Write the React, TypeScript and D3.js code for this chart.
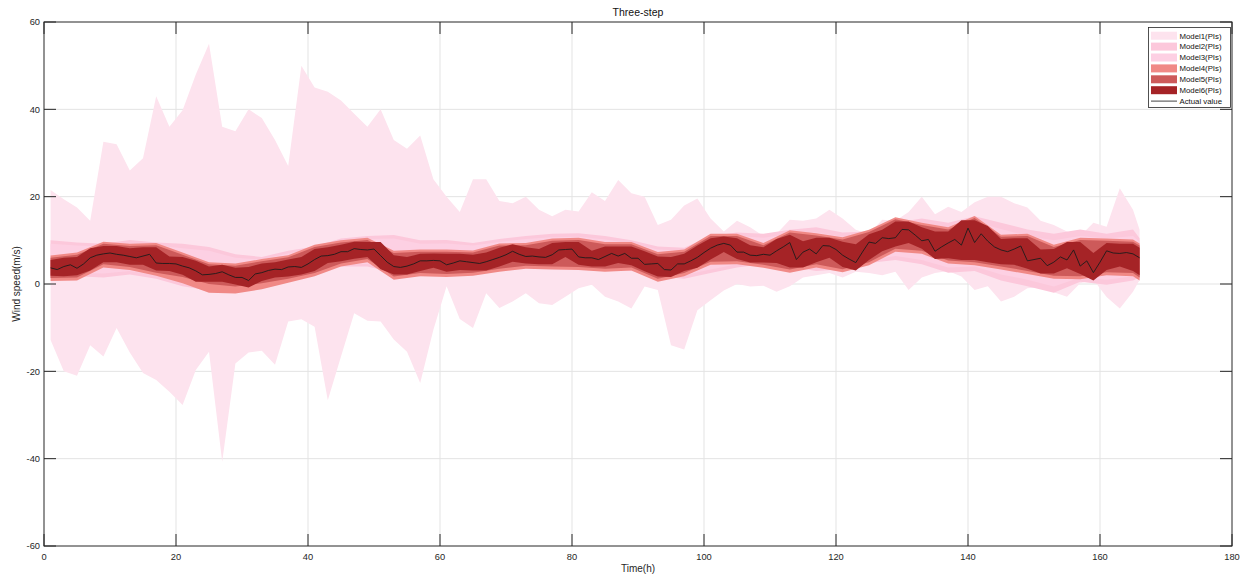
import React, { useEffect, useRef } from 'react';
import * as d3 from 'd3';

// hours of the test set and the measured wind speed
const hours = d3.range(1, 167);
const actual = [
  3.7, 3.3, 4.0, 4.4, 3.6, 4.6, 6.0, 6.6, 6.9, 7.1,
  6.8, 6.6, 6.3, 6.0, 6.4, 6.8, 4.8, 4.7, 4.7, 4.6,
  4.1, 3.7, 3.0, 2.1, 2.2, 2.4, 2.8, 2.1, 1.5, 1.5,
  0.8, 2.3, 2.6, 3.1, 3.4, 3.3, 3.9, 4.0, 3.8, 4.6,
  5.6, 6.4, 6.5, 6.8, 7.4, 7.4, 8.1, 7.9, 7.8, 8.0,
  6.5, 5.0, 4.0, 3.8, 4.1, 4.6, 5.3, 5.3, 5.4, 5.3,
  4.4, 4.8, 5.3, 5.1, 4.9, 4.7, 5.1, 5.6, 6.1, 6.7,
  7.5, 6.8, 6.3, 6.4, 6.2, 6.1, 6.7, 7.8, 7.9, 8.0,
  6.2, 6.0, 6.0, 5.6, 6.3, 7.0, 6.4, 7.0, 5.9, 5.9,
  4.5, 4.6, 4.7, 3.3, 3.2, 4.6, 4.6, 5.3, 6.1, 7.2,
  8.2, 8.9, 9.3, 8.9, 7.3, 7.3, 6.6, 6.5, 6.8, 6.6,
  7.6, 8.5, 9.5, 5.6, 7.3, 8.0, 6.9, 8.8, 8.7, 7.9,
  6.6, 5.7, 4.9, 7.3, 9.6, 9.3, 10.6, 10.4, 10.6, 12.5,
  12.4, 11.2, 9.9, 10.2, 7.5, 8.5, 9.4, 10.2, 8.9, 12.8,
  9.5, 11.5, 9.8, 8.5, 7.8, 7.4, 8.0, 8.7, 5.3, 5.6,
  5.9, 4.2, 5.0, 6.2, 5.5, 7.8, 4.1, 5.3, 2.6, 5.0,
  7.6, 7.1, 7.0, 7.2, 6.9, 6.0
];

// the interval bounds were read every 2 h (models 1 and 6) or every 4 h (models 2-5)
const grid2 = d3.range(1, 166, 2).concat([166]);
const grid4 = d3.range(1, 166, 4).concat([166]);

const model1Lo = [
  -12.8, -20, -21, -14, -16.6, -10.1, -15.7, -20.4, -22, -24.7,
  -27.7, -19.7, -15.5, -40.7, -18.2, -15.7, -15.3, -18.5, -8.6, -8.1,
  -9.8, -26.6, -16.6, -6.7, -8.4, -8.6, -12.7, -15.5, -22.7, -10.5,
  -0.5, -8, -10.1, -2.1, -5.5, -4, -2.1, -4.4, -4.8, -2.9,
  -1, -0.2, -2.9, -4, -5.6, -0.6, -1.4, -14, -15, -6,
  -3.7, -1.5, 0, -0.6, -0.4, -1.8, -0.5, 1.5, 2.0, 2.5,
  1.5, 2.8, 2.5, 2.0, 2.8, -1.4, 1.5, 2.5, 3.0, 1.7,
  -1.4, -0.5, -4.0, -2.9, -1.0, -0.7, -1.9, -2.9, 0.2, 1.0,
  -3.0, -5.6, -1.8, 0.9
];
const model1Hi = [
  21.5, 19.4, 17.5, 14.5, 32.6, 32.0, 26.0, 28.8, 43.0, 36.0,
  39.8, 48, 55, 36, 35, 40, 38, 33, 27, 50,
  45, 44, 42, 39, 36, 40, 33, 31, 34, 24,
  20, 16.5, 24, 24, 19, 18.5, 20, 17, 15.5, 17,
  16.6, 21, 19, 23.8, 20.8, 20, 13.5, 14.7, 18, 19.6,
  15, 12, 14.5, 13, 11, 11.5, 14.7, 14.5, 15, 17,
  15, 12.4, 11.5, 14.7, 14.5, 16.5, 20, 16, 17.7, 16.5,
  18.7, 20, 20, 18.5, 17.5, 14.5, 13.5, 12, 11, 14,
  13.1, 21.9, 17, 12.4
];

const model2Lo = [
  1.5, 1.8, 1.5, 2.2, 1.2, -0.5, -1.5, -1.8, -0.5, 2.5,
  3.5, 4.0, 4.0, 2.5, 1.8, 2.8, 2.0, 3.5, 4.5, 4.5,
  3.5, 3.8, 3.0, 1.8, 1.2, 2.5, 3.8, 4.6, 4.0, 3.0,
  3.4, 4.8, 5.5, 4.5, 2.6, 3.0, 0.8, -0.5, -2.0, 0.5,
  -0.2, 0.8, 1.5
];
const model2Hi = [
  10.0, 9.5, 9.2, 10.1, 9.5, 9.2, 8.5, 6.8, 6.2, 7.6,
  8.6, 10.4, 11.0, 11.2, 10.0, 10.1, 9.4, 10.3, 11.0, 11.5,
  11.6, 11.0, 10.0, 8.6, 8.3, 11.0, 11.8, 11.5, 12.4, 13.0,
  11.8, 12.0, 14.0, 15.0, 14.0, 15.5, 14.0, 12.5, 11.5, 12.5,
  11.5, 12.5, 10.5
];

const model3Lo = [
  2.2, 2.5, 2.4, 3.0, 2.0, 0.5, -0.5, -0.8, 0.4, 3.0,
  4.0, 4.6, 4.6, 3.2, 2.6, 3.4, 2.8, 4.1, 5.0, 5.1,
  4.2, 4.4, 3.7, 2.5, 2.0, 3.3, 4.5, 5.2, 4.8, 4.0,
  4.2, 5.5, 6.4, 5.5, 3.8, 4.0, 2.2, 1.0, -0.6, 1.5,
  1.0, 1.8, 2.4
];
const model3Hi = [
  9.2, 8.8, 8.6, 9.3, 8.8, 8.2, 7.6, 6.0, 5.6, 7.0,
  8.0, 9.7, 10.3, 10.4, 9.2, 9.3, 8.8, 9.6, 10.3, 10.7,
  10.8, 10.2, 9.3, 7.9, 7.6, 10.3, 11.0, 10.6, 11.4, 11.8,
  10.8, 11.2, 13.2, 14.0, 13.0, 14.2, 12.6, 11.0, 10.0, 11.0,
  10.4, 11.0, 9.6
];

const model4Lo = [
  0.7, 0.8, 3.8, 3.2, 1.9, 0.2, -2.0, -2.2, -1.2, 0.3,
  1.8, 4.0, 5.0, 1.0, 1.8, 1.6, 1.9, 2.8, 3.5, 3.3,
  3.2, 2.8, 3.1, 0.5, 1.8, 4.4, 4.5, 3.7, 2.6, 3.8,
  2.7, 4.3, 7.4, 6.9, 4.7, 4.3, 3.3, 2.3, 1.2, 1.1,
  2.0, 1.8, 0.8
];
const model4Hi = [
  6.5, 7.2, 9.7, 9.2, 9.4, 7.2, 5.0, 4.7, 5.7, 6.6,
  9.0, 10.0, 10.6, 7.6, 7.9, 7.9, 7.7, 9.3, 9.4, 10.4,
  10.6, 9.6, 9.6, 7.3, 7.9, 11.5, 11.5, 9.4, 12.3, 11.6,
  10.7, 12.4, 15.3, 14.0, 13.0, 15.6, 11.3, 11.5, 9.0, 10.6,
  10.4, 10.2, 9.3
];

const model5Lo = [
  1.4, 1.5, 4.5, 3.9, 2.6, 1.6, 0.0, -0.6, 0.2, 1.2,
  2.5, 4.7, 5.7, 1.7, 2.5, 2.3, 2.6, 3.5, 4.2, 4.0,
  3.9, 3.5, 3.8, 1.2, 2.5, 5.1, 5.2, 4.4, 3.3, 4.5,
  3.4, 5.0, 8.1, 7.6, 5.4, 5.0, 4.0, 3.0, 1.9, 1.8,
  2.7, 2.5, 1.5
];
const model5Hi = [
  6.0, 6.7, 9.2, 8.7, 8.9, 6.7, 4.5, 4.2, 5.2, 6.1,
  8.5, 9.5, 10.1, 7.1, 7.4, 7.4, 7.2, 8.8, 8.9, 9.9,
  10.1, 9.1, 9.1, 6.8, 7.4, 11.0, 11.0, 8.9, 11.8, 11.1,
  10.2, 11.9, 14.8, 13.5, 12.5, 15.1, 10.8, 11.0, 8.5, 10.1,
  9.9, 9.7, 8.8
];

const model6Lo = [
  1.9, 1.8, 2.0, 3.1, 5.0, 5.0, 4.4, 4.4, 3.1, 3.0,
  2.1, 0.5, 0.5, 0.5, -0.1, -0.8, 0.7, 1.5, 1.7, 2.2,
  3.0, 4.8, 5.2, 5.8, 6.2, 3.4, 2.2, 2.2, 3.0, 3.7,
  2.8, 3.2, 3.1, 3.1, 4.0, 5.1, 4.7, 4.5, 4.5, 6.2,
  4.4, 4.0, 4.0, 4.8, 4.3, 2.9, 1.7, 1.6, 3.0, 3.7,
  5.6, 7.3, 5.7, 4.9, 4.9, 4.8, 3.8, 3.8, 5.0, 6.0,
  3.9, 3.1, 5.5, 7.5, 8.6, 9.4, 8.1, 5.7, 5.9, 5.5,
  5.5, 5.0, 4.5, 4.4, 3.5, 2.4, 2.4, 3.6, 2.3, 0.8,
  3.2, 4.0, 3.0, 2.0
];
const model6Hi = [
  5.5, 6.0, 6.2, 8.2, 8.7, 8.7, 8.2, 8.4, 8.4, 6.3,
  6.2, 5.3, 4.0, 4.4, 3.7, 3.9, 4.7, 5.0, 5.6, 6.2,
  8.0, 8.4, 9.0, 9.7, 9.6, 9.6, 6.6, 6.2, 6.9, 7.0,
  6.9, 6.9, 6.7, 7.2, 8.3, 9.1, 8.4, 8.0, 9.4, 9.6,
  9.6, 7.6, 8.6, 8.6, 8.6, 7.5, 6.3, 6.2, 6.9, 8.8,
  10.5, 10.9, 10.5, 8.9, 8.4, 10.3, 11.3, 9.8, 10.6, 10.6,
  9.7, 9.1, 11.4, 12.4, 14.3, 14.3, 13.0, 12.0, 12.0, 14.6,
  14.6, 13.3, 10.3, 10.5, 10.5, 7.9, 8.0, 9.6, 9.6, 7.1,
  9.4, 9.2, 9.2, 8.3
];

const modelNames = ['Model1(PIs)', 'Model2(PIs)', 'Model3(PIs)', 'Model4(PIs)', 'Model5(PIs)', 'Model6(PIs)'];
const modelColors = ['#fde3ee', '#fcc8db', '#fdd0e3', '#f08986', '#cd5a5a', '#a52326'];
const xTicks = [0, 20, 40, 60, 80, 100, 120, 140, 160, 180];
const yTicks = [-60, -40, -20, 0, 20, 40, 60];

const W = 1241;
const H = 577;
const M = { left: 44, right: 9, top: 22, bottom: 31 };
const FONT = '"Liberation Sans", Arial, Helvetica, sans-serif';
const AX = '#262626';

export default function App() {
  const ref = useRef<SVGSVGElement>(null);

  useEffect(() => {
    document.body.style.margin = '0';
    if (!ref.current) return;
    const svg = d3.select(ref.current);
    svg.selectAll('*').remove();

    const x = d3.scaleLinear().domain([0, 180]).range([M.left, W - M.right]);
    const y = d3.scaleLinear().domain([-60, 60]).range([H - M.bottom, M.top]);

    const bands = [
      { x: grid2, lo: model1Lo, hi: model1Hi },
      { x: grid4, lo: model2Lo, hi: model2Hi },
      { x: grid4, lo: model3Lo, hi: model3Hi },
      { x: grid4, lo: model4Lo, hi: model4Hi },
      { x: grid4, lo: model5Lo, hi: model5Hi },
      { x: grid2, lo: model6Lo, hi: model6Hi }
    ].map((b, i) => ({ ...b, name: modelNames[i], color: modelColors[i] }));

    svg.append('rect').attr('width', W).attr('height', H).attr('fill', '#fff');

    svg.append('defs').append('clipPath').attr('id', 'plot')
      .append('rect')
      .attr('x', M.left).attr('y', M.top)
      .attr('width', W - M.left - M.right).attr('height', H - M.top - M.bottom);

    // grid
    const grid = svg.append('g').attr('stroke', '#e3e3e3').attr('stroke-width', 1);
    xTicks.slice(1, -1).forEach(t => {
      grid.append('line').attr('x1', x(t)).attr('x2', x(t)).attr('y1', M.top).attr('y2', H - M.bottom);
    });
    yTicks.slice(1, -1).forEach(t => {
      grid.append('line').attr('y1', y(t)).attr('y2', y(t)).attr('x1', M.left).attr('x2', W - M.right);
    });

    // bands
    const plot = svg.append('g').attr('clip-path', 'url(#plot)');
    bands.forEach(b => {
      const area = d3.area<number>()
        .x((_, i) => x(b.x[i]))
        .y0((_, i) => y(b.lo[i]))
        .y1((_, i) => y(b.hi[i]));
      plot.append('path').datum(b.x).attr('d', area).attr('fill', b.color);
    });

    const line = d3.line<number>().x((_, i) => x(hours[i])).y(d => y(d));
    plot.append('path').datum(actual).attr('d', line)
      .attr('fill', 'none').attr('stroke', '#1c1c1c').attr('stroke-width', 0.9);

    // frame and ticks
    const ax = svg.append('g').attr('stroke', AX).attr('stroke-width', 1).attr('fill', 'none');
    ax.append('rect').attr('x', M.left).attr('y', M.top)
      .attr('width', W - M.left - M.right).attr('height', H - M.top - M.bottom);
    const tl = 12;
    xTicks.forEach(t => {
      ax.append('line').attr('x1', x(t)).attr('x2', x(t)).attr('y1', H - M.bottom).attr('y2', H - M.bottom - tl);
      ax.append('line').attr('x1', x(t)).attr('x2', x(t)).attr('y1', M.top).attr('y2', M.top + tl);
    });
    yTicks.forEach(t => {
      ax.append('line').attr('y1', y(t)).attr('y2', y(t)).attr('x1', M.left).attr('x2', M.left + tl);
      ax.append('line').attr('y1', y(t)).attr('y2', y(t)).attr('x1', W - M.right).attr('x2', W - M.right - tl);
    });

    const txt = svg.append('g').attr('font-family', FONT).attr('fill', AX);
    xTicks.forEach(t => {
      txt.append('text').attr('x', x(t)).attr('y', H - M.bottom + 13.5)
        .attr('text-anchor', 'middle').attr('font-size', 9.3).text(t);
    });
    yTicks.forEach(t => {
      txt.append('text').attr('x', M.left - 4).attr('y', y(t) + 3.3)
        .attr('text-anchor', 'end').attr('font-size', 9.3).text(t);
    });
    txt.append('text').attr('x', (M.left + W - M.right) / 2).attr('y', H - 5)
      .attr('text-anchor', 'middle').attr('font-size', 10).text('Time(h)');
    txt.append('text')
      .attr('transform', `translate(20,${(M.top + H - M.bottom) / 2}) rotate(-90)`)
      .attr('text-anchor', 'middle').attr('font-size', 10).text('Wind speed(m/s)');
    txt.append('text').attr('x', (M.left + W - M.right) / 2).attr('y', 16)
      .attr('text-anchor', 'middle').attr('font-size', 10.5).attr('fill', '#111').text('Three-step');

    // legend
    const lg = svg.append('g').attr('transform', 'translate(1148.5,27.5)');
    lg.append('rect').attr('width', 82).attr('height', 80)
      .attr('fill', '#fff').attr('stroke', AX).attr('stroke-width', 0.8);
    const rowY = (i: number) => 8.2 + i * 10.9;
    bands.forEach((b, i) => {
      lg.append('rect').attr('x', 2.5).attr('y', rowY(i) - 4).attr('width', 26).attr('height', 8).attr('fill', b.color);
      lg.append('text').attr('x', 31).attr('y', rowY(i) + 2.8)
        .attr('font-family', FONT).attr('font-size', 7.8).attr('fill', '#111').text(b.name);
    });
    lg.append('line').attr('x1', 2.5).attr('x2', 28.5).attr('y1', rowY(6)).attr('y2', rowY(6))
      .attr('stroke', '#444').attr('stroke-width', 1);
    lg.append('text').attr('x', 31).attr('y', rowY(6) + 2.8)
      .attr('font-family', FONT).attr('font-size', 7.8).attr('fill', '#111').text('Actual value');
  }, []);

  return <svg ref={ref} width={W} height={H} style={{ display: 'block' }} />;
}
